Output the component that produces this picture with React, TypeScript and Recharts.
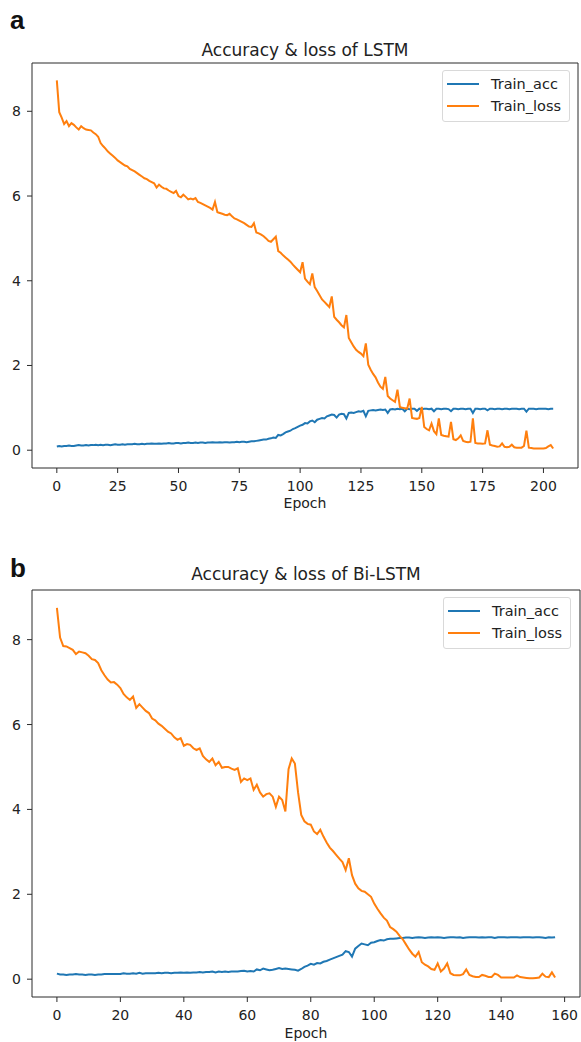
import { LineChart, Line, XAxis, YAxis, Legend, ReferenceLine } from "recharts";

// LSTM run, epochs 0..204
const lstmLoss = [
  8.73, 7.98, 7.85, 7.7, 7.77, 7.65, 7.72, 7.68, 7.62, 7.57,
  7.65, 7.6, 7.57, 7.56, 7.55, 7.5, 7.46, 7.4, 7.25, 7.18,
  7.12, 7.05, 7.0, 6.95, 6.9, 6.84, 6.8, 6.76, 6.72, 6.7,
  6.64, 6.61, 6.58, 6.54, 6.5, 6.46, 6.42, 6.4, 6.36, 6.33,
  6.3, 6.2, 6.27, 6.22, 6.18, 6.17, 6.13, 6.1, 6.07, 6.12,
  6.0, 5.97, 6.03, 5.98, 5.92, 5.94, 5.92, 5.95, 5.86, 5.84,
  5.81, 5.78, 5.75, 5.72, 5.68, 5.86, 5.62, 5.6, 5.58, 5.56,
  5.55, 5.58, 5.52, 5.47, 5.45, 5.42, 5.39, 5.36, 5.32, 5.28,
  5.27, 5.36, 5.14, 5.12, 5.09, 5.05, 5.0, 4.94, 4.92, 4.98,
  5.04, 4.7, 4.66, 4.6, 4.55, 4.5, 4.45, 4.38, 4.32, 4.26,
  4.2, 4.44, 4.05, 3.98, 3.92, 4.17, 3.85, 3.76, 3.66, 3.56,
  3.5, 3.44, 3.38, 3.63, 3.15, 3.08, 3.02, 2.95, 2.9, 3.19,
  2.65, 2.55, 2.45, 2.37, 2.32, 2.28, 2.22, 2.52, 2.02, 1.9,
  1.8, 1.72, 1.6, 1.5, 1.45, 1.73, 1.28, 1.22, 1.18, 1.14,
  1.43, 1.02, 1.0, 0.99, 0.98, 1.22, 0.76, 0.75, 0.74, 0.76,
  1.02, 0.55, 0.5, 0.47, 0.63, 0.45, 0.38, 0.75, 0.36, 0.34,
  0.33, 0.32, 0.67, 0.26, 0.24, 0.28, 0.35, 0.22, 0.2, 0.19,
  0.2, 0.75, 0.17, 0.16, 0.16, 0.15, 0.16, 0.47, 0.13, 0.11,
  0.1, 0.08, 0.09, 0.16, 0.08, 0.07, 0.08, 0.13, 0.07, 0.06,
  0.06, 0.06, 0.1, 0.46, 0.06, 0.05, 0.04, 0.04, 0.04, 0.04,
  0.04, 0.05, 0.09, 0.12, 0.04,
];
const lstmAcc = [
  0.09, 0.1, 0.09, 0.1, 0.1, 0.11, 0.1, 0.1, 0.11, 0.12,
  0.11, 0.11, 0.12, 0.11, 0.12, 0.12, 0.13, 0.12, 0.13, 0.12,
  0.13, 0.13, 0.12, 0.13, 0.14, 0.13, 0.13, 0.14, 0.13, 0.14,
  0.14, 0.14, 0.15, 0.14, 0.14, 0.15, 0.14, 0.15, 0.15, 0.16,
  0.15, 0.15, 0.16, 0.15, 0.16, 0.16, 0.17, 0.16, 0.16, 0.17,
  0.17, 0.16, 0.17, 0.17, 0.18, 0.17, 0.17, 0.18, 0.17, 0.18,
  0.18, 0.17, 0.18, 0.18, 0.19, 0.18, 0.18, 0.19, 0.18, 0.19,
  0.19, 0.18, 0.19, 0.19, 0.2, 0.19, 0.2, 0.2, 0.19, 0.2,
  0.21, 0.21, 0.22, 0.23, 0.24, 0.25, 0.25, 0.27, 0.28, 0.3,
  0.29, 0.36, 0.35, 0.38, 0.42, 0.44, 0.46, 0.5, 0.52, 0.55,
  0.58, 0.6, 0.64, 0.63, 0.68, 0.7, 0.66, 0.72, 0.74, 0.76,
  0.75, 0.8, 0.82, 0.84, 0.83, 0.77, 0.84, 0.86, 0.85, 0.75,
  0.88, 0.89, 0.88, 0.9, 0.92, 0.91, 0.93, 0.8, 0.93, 0.94,
  0.95, 0.94, 0.95, 0.96, 0.95, 0.96, 0.88, 0.96, 0.97, 0.96,
  0.98, 0.97, 0.98, 0.92, 0.98, 0.97, 0.98, 0.98, 0.93, 0.98,
  0.97, 0.98, 0.98, 0.97, 0.98, 0.92, 0.98, 0.98, 0.97, 0.98,
  0.98, 0.97, 0.92, 0.98, 0.98, 0.97, 0.98, 0.98, 0.97, 0.98,
  0.98, 0.88, 0.98, 0.98, 0.97, 0.98, 0.98, 0.94, 0.98, 0.98,
  0.97, 0.98, 0.98, 0.97, 0.98, 0.98, 0.97, 0.98, 0.98, 0.98,
  0.97, 0.98, 0.98, 0.91, 0.98, 0.98, 0.98, 0.97, 0.98, 0.98,
  0.98, 0.98, 0.97, 0.98, 0.98,
];

// Bi-LSTM run, epochs 0..157
const biLoss = [
  8.75, 8.05, 7.85, 7.84, 7.8, 7.76, 7.66, 7.72, 7.7, 7.68,
  7.62, 7.54, 7.52, 7.45, 7.28, 7.16, 7.06, 6.99, 7.0, 6.94,
  6.86, 6.72, 6.64, 6.58, 6.66, 6.39, 6.48, 6.4, 6.32, 6.27,
  6.14, 6.1, 6.02, 5.97, 5.9, 5.83, 5.79, 5.7, 5.64, 5.68,
  5.5, 5.54, 5.52, 5.44, 5.4, 5.44, 5.26, 5.18, 5.12, 5.2,
  5.04, 5.12, 4.98, 5.0, 5.0, 4.96, 4.93, 4.97, 4.65, 4.73,
  4.69, 4.73, 4.46, 4.58, 4.4, 4.3, 4.36, 4.38, 4.3, 4.06,
  4.3, 4.22, 3.95, 4.95, 5.2, 5.08, 4.4, 3.87, 3.72, 3.66,
  3.64, 3.48, 3.42, 3.52, 3.36, 3.22, 3.1, 3.02, 2.93, 2.84,
  2.76, 2.57, 2.85, 2.45, 2.25, 2.14, 2.08, 2.06, 2.0, 1.94,
  1.78, 1.66, 1.55, 1.45, 1.38, 1.23, 1.18, 1.12, 1.02, 0.94,
  0.82, 0.7, 0.6, 0.53, 0.64, 0.4, 0.34, 0.3, 0.24, 0.22,
  0.37, 0.18, 0.25, 0.37, 0.14, 0.1, 0.09, 0.09, 0.12, 0.23,
  0.1, 0.07, 0.05, 0.05, 0.1, 0.08, 0.05, 0.05, 0.13, 0.1,
  0.04, 0.04, 0.04, 0.04, 0.04, 0.09, 0.05, 0.04, 0.03, 0.02,
  0.02, 0.03, 0.04, 0.13, 0.06, 0.05, 0.16, 0.04,
];
const biAcc = [
  0.13, 0.11, 0.11, 0.1, 0.11, 0.11, 0.12, 0.11, 0.11, 0.1,
  0.11, 0.11, 0.1, 0.11, 0.11, 0.12, 0.12, 0.12, 0.12, 0.12,
  0.12, 0.14, 0.13, 0.13, 0.14, 0.13, 0.15, 0.13, 0.14, 0.14,
  0.14, 0.14, 0.15, 0.14, 0.15, 0.15, 0.14, 0.15, 0.15, 0.16,
  0.15, 0.16, 0.15, 0.16, 0.16, 0.17, 0.16, 0.17, 0.17, 0.18,
  0.16, 0.18, 0.17, 0.18, 0.17, 0.18, 0.18, 0.18, 0.19, 0.2,
  0.18, 0.19, 0.18, 0.23, 0.21, 0.25, 0.23, 0.21, 0.22, 0.24,
  0.26, 0.24, 0.25, 0.24, 0.23, 0.22, 0.2, 0.24, 0.29, 0.32,
  0.36, 0.34, 0.38, 0.37, 0.41, 0.43, 0.46, 0.49, 0.52, 0.55,
  0.58, 0.66, 0.64, 0.53, 0.72, 0.78, 0.84, 0.82, 0.8, 0.86,
  0.87, 0.9, 0.92, 0.91, 0.94, 0.95, 0.95, 0.96, 0.97, 0.97,
  0.98, 0.98, 0.97, 0.98, 0.99, 0.98, 0.97, 0.98, 0.99, 0.98,
  0.99, 0.98, 0.97, 0.98, 0.99, 0.99, 0.98, 0.99, 0.97, 0.98,
  0.99, 0.99, 0.99, 0.98, 0.99, 0.98, 0.99, 0.99, 0.97, 0.99,
  0.99, 0.99, 0.98, 0.99, 0.99, 0.99, 0.98, 0.99, 0.99, 0.99,
  0.98, 0.99, 0.99, 0.98, 0.97, 0.99, 0.98, 0.99,
];

const lstmTicks = [0, 25, 50, 75, 100, 125, 150, 175, 200];
const biTicks = [0, 20, 40, 60, 80, 100, 120, 140, 160];
const yTicks = [0, 2, 4, 6, 8];

const BLUE = "#1f77b4";
const ORANGE = "#ff7f0e";
const AXIS = "#2b2b2b";
const FONT = "'DejaVu Sans', sans-serif";

const toRows = (acc: number[], loss: number[]) =>
  acc.map((a, i) => ({ epoch: i, acc: a, loss: loss[i] }));

function LegendBox(props: any) {
  const items = props.payload ?? [];
  return (
    <div
      style={{
        width: 128,
        boxSizing: "border-box",
        border: "1px solid #d9d9d9",
        borderRadius: 3,
        background: "rgba(255,255,255,0.8)",
        padding: "2px 4px 4px 4px",
        fontFamily: FONT,
        fontSize: 14.5,
        color: "#222",
      }}
    >
      {items.map((p: any) => (
        <div key={p.value} style={{ display: "flex", alignItems: "center", height: 22 }}>
          <svg width={32} height={4} style={{ marginRight: 12, flex: "none" }}>
            <line x1={0} y1={2} x2={32} y2={2} stroke={p.color} strokeWidth={2} />
          </svg>
          <span style={{ whiteSpace: "nowrap" }}>{p.value}</span>
        </div>
      ))}
    </div>
  );
}

interface PanelProps {
  rows: { epoch: number; acc: number; loss: number }[];
  xTicks: number[];
  xDomain: [number, number];
  yDomain: [number, number];
  height: number;
  top: number;
  right: number;
  axisHeight: number;
  labelOffset: number;
  legendLeft: number;
  legendTop: number;
}

function Panel(p: PanelProps) {
  const tickStyle = { fontFamily: FONT, fontSize: 14, fill: "#222" };
  return (
    <LineChart
      width={581}
      height={p.height}
      data={p.rows}
      margin={{ top: p.top, right: p.right, bottom: 0, left: 0 }}
    >
      <XAxis
        dataKey="epoch"
        type="number"
        domain={p.xDomain}
        ticks={p.xTicks}
        allowDataOverflow
        height={p.axisHeight}
        tick={tickStyle}
        tickSize={5}
        tickMargin={8}
        stroke={AXIS}
        label={{
          value: "Epoch",
          position: "insideBottom",
          offset: p.labelOffset,
          style: { fontFamily: FONT, fontSize: 14, fill: "#222" },
        }}
      />
      <YAxis
        type="number"
        domain={p.yDomain}
        ticks={yTicks}
        allowDataOverflow
        width={32}
        tick={tickStyle}
        tickSize={5}
        tickMargin={6}
        stroke={AXIS}
      />
      {/* close the frame on the top and right, like matplotlib's spines */}
      <ReferenceLine y={p.yDomain[1]} stroke={AXIS} strokeWidth={1} />
      <ReferenceLine x={p.xDomain[1]} stroke={AXIS} strokeWidth={1} />
      <Legend
        content={<LegendBox />}
        layout="horizontal"
        align="center"
        verticalAlign="middle"
        wrapperStyle={{ left: p.legendLeft, top: p.legendTop, width: 128 }}
      />
      <Line
        dataKey="acc"
        name="Train_acc"
        stroke={BLUE}
        strokeWidth={2}
        dot={false}
        isAnimationActive={false}
      />
      <Line
        dataKey="loss"
        name="Train_loss"
        stroke={ORANGE}
        strokeWidth={2}
        dot={false}
        isAnimationActive={false}
      />
    </LineChart>
  );
}

export default function App() {
  return (
    <div style={{ position: "absolute", left: 0, top: 0, width: 581, height: 1042, background: "#fff", overflow: "hidden" }}>
      <div style={{ position: "absolute", left: 0, top: 0 }}>
        <Panel
          rows={toRows(lstmAcc, lstmLoss)}
          xTicks={lstmTicks}
          xDomain={[-10.2, 214.2]}
          yDomain={[-0.42, 9.14]}
          height={530}
          top={63}
          right={3}
          axisHeight={62}
          labelOffset={22}
          legendLeft={442}
          legendTop={70}
        />
      </div>
      <div style={{ position: "absolute", left: 0, top: 540 }}>
        <Panel
          rows={toRows(biAcc, biLoss)}
          xTicks={biTicks}
          xDomain={[-7.85, 164.85]}
          yDomain={[-0.42, 9.17]}
          height={502}
          top={50}
          right={1}
          axisHeight={45}
          labelOffset={4}
          legendLeft={443}
          legendTop={57}
        />
      </div>
      <svg width={581} height={1042} style={{ position: "absolute", left: 0, top: 0, pointerEvents: "none" }}>
        <text x={10} y={29} style={{ fontFamily: "'Liberation Sans', Arial, sans-serif", fontWeight: 700, fontSize: 26 }} fill="#111">a</text>
        <text x={305} y={56} textAnchor="middle" style={{ fontFamily: FONT, fontSize: 17 }} fill="#222">Accuracy &amp; loss of LSTM</text>
        <text x={10} y={577} style={{ fontFamily: "'Liberation Sans', Arial, sans-serif", fontWeight: 700, fontSize: 26 }} fill="#111">b</text>
        <text x={306} y={580} textAnchor="middle" style={{ fontFamily: FONT, fontSize: 17 }} fill="#222">Accuracy &amp; loss of Bi-LSTM</text>
      </svg>
    </div>
  );
}
